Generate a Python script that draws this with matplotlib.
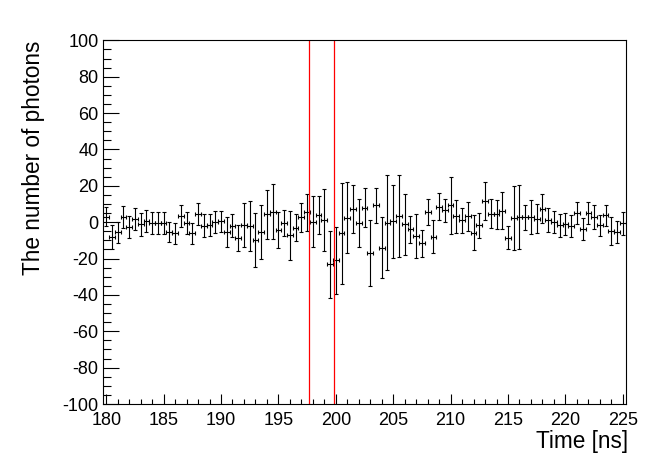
import numpy as np
import matplotlib
matplotlib.use("Agg")
import matplotlib.pyplot as plt
from matplotlib.ticker import MultipleLocator

plt.rcParams['font.family'] = ['Liberation Sans', 'DejaVu Sans']
plt.rcParams['axes.unicode_minus'] = False

# histogram: 0.5 ns bins, centres 180 .. 225
bin_width = 0.5
times = np.arange(180.0, 225.0 + bin_width / 2, bin_width)

photons = [
    3.0, -8.0, -5.6, 3.0, -2.5, 1.6, -1.2, 0.8, -0.6, -0.6,      # 180 - 184.5
    -0.6, -5.3, -6.2, 3.4, -0.6, -6.2, 4.3, -1.9, -1.6, -0.1,    # 185 - 189.5
    0.6, -5.6, -1.9, -8.9, -1.6, -1.9, -9.9, -5.3, 4.3, 5.8,     # 190 - 194.5
    -4.3, -0.6, -7.1, -3.0, 2.7, 5.4, 0.3, 4.0, 1.2, -23.2,      # 195 - 199.5
    -20.9, -6.2, 2.5, 7.3, -0.5, 7.9, -16.8, 9.2, -14.0, -0.3,   # 200 - 204.5
    0.6, 3.3, -1.2, -4.0, -7.6, -11.6, 5.5, -8.0, 8.5, 6.6,      # 205 - 209.5
    9.2, 3.3, 1.1, 3.3, -5.8, -1.8, 11.6, 4.6, 4.3, 6.4,         # 210 - 214.5
    -8.5, 2.4, 2.8, 2.8, 2.8, 1.9, 7.4, 1.1, 0.2, -1.8,          # 215 - 219.5
    -0.9, -2.1, 5.2, -3.6, 5.2, 2.8, -1.8, 3.7, -4.9, -5.3,      # 220 - 224.5
    -0.7,                                                        # 225
]

errors = [
    5.3, 6.6, 5.7, 6.1, 6.0, 6.0, 6.2, 6.1, 6.0, 6.0,
    6.0, 5.6, 5.9, 6.1, 6.0, 5.9, 6.0, 6.4, 6.0, 6.0,
    5.8, 8.3, 6.4, 7.1, 12.1, 13.8, 15.0, 14.9, 13.3, 15.0,
    10.1, 7.2, 13.5, 7.5, 8.1, 10.1, 14.1, 10.3, 17.1, 18.6,
    18.5, 28.0, 19.5, 13.3, 13.0, 10.8, 18.1, 9.8, 16.7, 26.2,
    20.1, 22.6, 16.7, 7.3, 12.3, 7.3, 7.3, 9.1, 7.3, 6.4,
    15.8, 9.0, 6.9, 8.0, 9.6, 7.0, 10.5, 8.0, 8.0, 10.0,
    6.4, 17.7, 17.4, 6.9, 9.4, 8.0, 8.0, 6.6, 6.0, 6.4,
    6.2, 6.2, 6.0, 6.0, 6.0, 6.4, 5.8, 6.0, 7.6, 6.0,
    6.4,
]

# vertical marker lines [ns]
marker_times = [197.7, 199.8]

fig = plt.figure(figsize=(6.64, 4.54), dpi=100)
ax = fig.add_axes([0.1556, 0.110, 0.7867, 0.8012])

ax.errorbar(times, photons, yerr=errors, xerr=bin_width / 2, fmt='none',
            ecolor='black', elinewidth=0.8, capsize=1.6, capthick=0.8)

for t in marker_times:
    ax.axvline(t, color='red', lw=0.9)

ax.set_xlim(179.75, 225.25)
ax.set_ylim(-100, 100)

ax.xaxis.set_major_locator(MultipleLocator(5))
ax.xaxis.set_minor_locator(MultipleLocator(1))
ax.yaxis.set_major_locator(MultipleLocator(20))
ax.yaxis.set_minor_locator(MultipleLocator(5))

ax.tick_params(axis='both', which='both', direction='in', width=0.8,
               top=False, right=False, labelsize=13)
ax.tick_params(axis='x', which='major', length=7.2, pad=5.5)
ax.tick_params(axis='x', which='minor', length=3.6)
ax.tick_params(axis='y', which='major', length=11.5, pad=3.5)
ax.tick_params(axis='y', which='minor', length=5.8)

for sp in ax.spines.values():
    sp.set_linewidth(0.8)

ax.text(1.0044, -0.104, 'Time [ns]', transform=ax.transAxes,
        ha='right', va='center', fontsize=16.3)
ax.text(-0.1346, 1.0, 'The number of photons', transform=ax.transAxes,
        rotation=90, ha='center', va='top', fontsize=16.3)

fig.savefig('out.png', dpi=100)
